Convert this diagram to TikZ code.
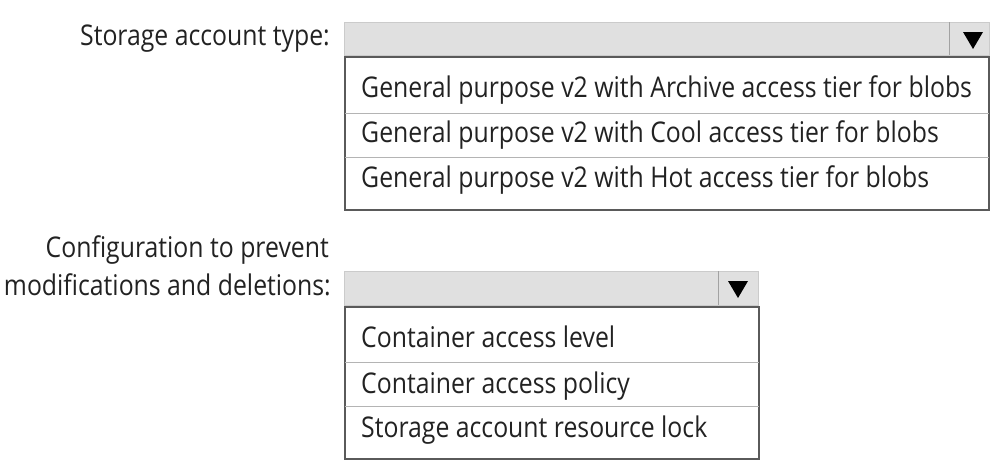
\documentclass[tikz,border=0pt]{standalone}
\usepackage{fontspec}
\setmainfont{Open Sans}[FakeStretch=0.87]
\definecolor{barfill}{HTML}{E0E0E0}
\definecolor{barline}{HTML}{CBCBCB}
\definecolor{listline}{HTML}{5A5A5A}
\definecolor{divline}{HTML}{B4B4B4}
\definecolor{txt}{HTML}{222222}
\tikzset{
  bar/.style={fill=barfill, draw=barline, line width=0.8pt},
  sep/.style={draw=barline!80!black, line width=0.8pt},
  listbox/.style={draw=listline, line width=1.4pt},
  divider/.style={draw=divline, line width=0.8pt},
  arrowtri/.style={fill=black},
  opt/.style={anchor=base west, inner sep=0pt, text=txt, font=\fontsize{28.5}{32}\selectfont},
  lbl/.style={anchor=base east, inner sep=0pt, text=txt, font=\fontsize{28.5}{32}\selectfont},
}
\begin{document}
\begin{tikzpicture}[x=1pt, y=-1pt]
\useasboundingbox (0,0) rectangle (1008,466);
% ---- top dropdown ----
\path[bar] (344,22) rectangle (989,55);
\path[sep] (949,22) -- (949,55);
\path[arrowtri] (963,32) -- (983,32) -- (973,49) -- cycle;
\path[listbox] (345,57) rectangle (989,210);
\path[divider] (345,113) -- (989,113);
\path[divider] (345,157) -- (989,157);
\node[lbl] (l1) at (330,45) {Storage account type:};
\node[opt] (a1) at (361,97) {General purpose v2 with Archive access tier for blobs};
\node[opt] (a2) at (361,142) {General purpose v2 with Cool access tier for blobs};
\node[opt] (a3) at (361,187) {General purpose v2 with Hot access tier for blobs};
% ---- bottom dropdown ----
\path[bar] (344,271) rectangle (758,305);
\path[sep] (718,271) -- (718,305);
\path[arrowtri] (728,281) -- (748,281) -- (738,298) -- cycle;
\path[listbox] (345,307) rectangle (759,459);
\path[divider] (345,362) -- (759,362);
\path[divider] (345,406) -- (759,406);
\node[lbl] (l2) at (329,257) {Configuration to prevent};
\node[lbl] (l3) at (331,295) {modifications and deletions:};
\node[opt] (b1) at (361,347) {Container access level};
\node[opt] (b2) at (361,393) {Container access policy};
\node[opt] (b3) at (361,437) {Storage account resource lock};
\end{tikzpicture}
\end{document}
